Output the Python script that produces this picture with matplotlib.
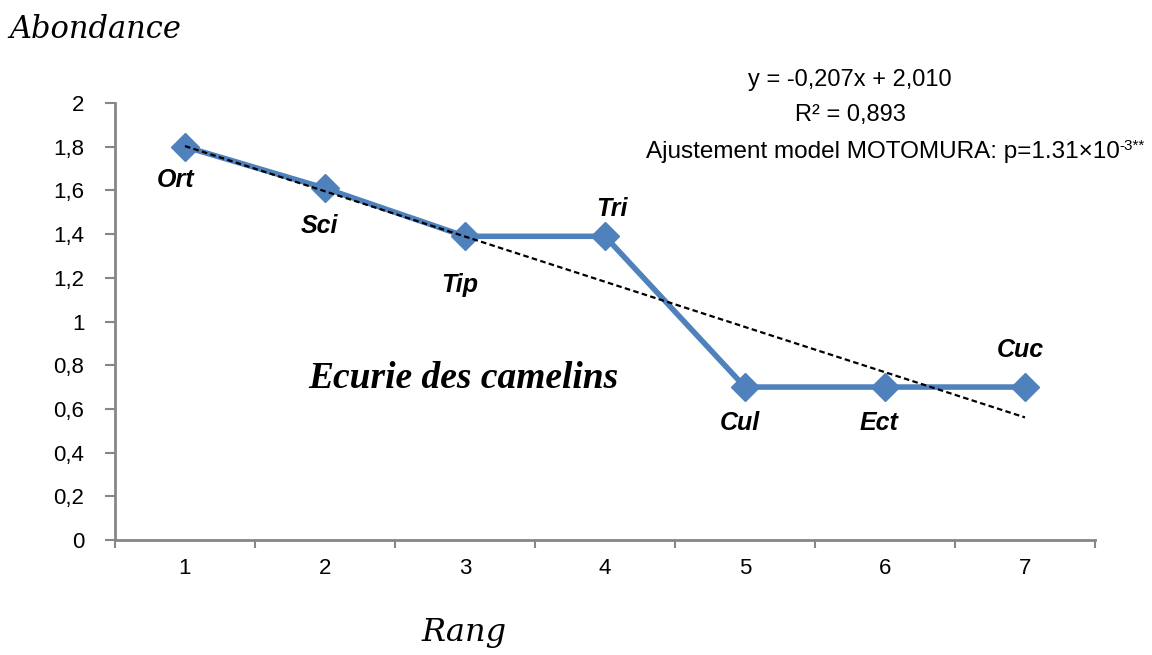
import numpy as np
import matplotlib.pyplot as plt
from matplotlib.ticker import FuncFormatter

# Rang / abondance data (log abundance by rank)
rangs = [1, 2, 3, 4, 5, 6, 7]
abondance = [1.8, 1.61, 1.39, 1.39, 0.7, 0.7, 0.7]
especes = ["Ort", "Sci", "Tip", "Tri", "Cul", "Ect", "Cuc"]
# label offsets in points (dx, dy)
label_offsets = [(-7, -24), (-4, -27), (-4, -35), (5, 20), (-4, -26), (-4, -26), (-3, 27)]

pente = -0.207
origine = 2.010

plt.rcParams["font.family"] = ["Liberation Sans", "DejaVu Sans"]

fig = plt.figure(figsize=(11.52, 6.55), dpi=100)
ax = fig.add_axes([0.0998, 0.1756, 0.8507, 0.6671])

ax.plot(rangs, abondance, color="#4F81BD", linewidth=4, marker="D",
        markersize=14, markerfacecolor="#4F81BD", markeredgecolor="#4F81BD", zorder=3)

x_fit = np.array([rangs[0], rangs[-1]])
ax.plot(x_fit, pente * x_fit + origine, color="black", linestyle=(0, (2.5, 1.5)),
        linewidth=1.6, zorder=4)

for x, y, nom, (dx, dy) in zip(rangs, abondance, especes, label_offsets):
    ax.annotate(nom, (x, y), xytext=(dx, dy), textcoords="offset points",
                ha="center", va="center", fontsize=18, fontweight="bold",
                fontstyle="italic", color="black")


def fmt(v, p):
    if abs(v) < 1e-9:
        return "0"
    s = f"{v:.1f}"
    if s.endswith(".0"):
        s = s[:-2]
    return s.replace(".", ",")


ax.set_xlim(0.5, 7.5)
ax.set_ylim(0, 2)
ax.set_yticks(np.arange(0, 2.01, 0.2))
ax.yaxis.set_major_formatter(FuncFormatter(fmt))
ax.set_xticks(rangs)
ax.set_xticks(np.arange(0.5, 7.6, 1), minor=True)
ax.tick_params(axis="x", which="major", length=0, pad=13, labelsize=16)
ax.tick_params(axis="x", which="minor", length=6, color="#868686", width=1.5)
ax.tick_params(axis="y", length=7, color="#868686", width=1.5, labelsize=16, pad=15)

for side in ["top", "right"]:
    ax.spines[side].set_visible(False)
for side in ["left", "bottom"]:
    ax.spines[side].set_color("#868686")
    ax.spines[side].set_linewidth(2)

serif = ["DejaVu Serif"]
fig.text(0.008, 0.955, "Abondance", fontsize=22, fontstyle="italic", family=serif,
         ha="left", va="center")
fig.text(0.403, 0.035, "Rang", fontsize=23, fontstyle="italic", family=serif,
         ha="center", va="center")
ax.text(2.99, 0.74, "Ecurie des camelins", fontsize=27, fontstyle="italic",
        fontweight="bold", family=["Liberation Serif", "DejaVu Serif"],
        ha="center", va="center")

fig.text(0.738, 0.878, "y = -0,207x + 2,010", fontsize=17, ha="center", va="center")
fig.text(0.738, 0.824, "R² = 0,893", fontsize=17, ha="center", va="center")
ajust = fig.text(0.972, 0.768, "Ajustement model MOTOMURA: p=1.31×10", fontsize=17.5,
                 ha="right", va="center")
ax.annotate("-3**", xy=(1.0, 0.78), xycoords=ajust, ha="left", va="center",
            fontsize=11, annotation_clip=False)

fig.savefig("out.png", dpi=100, facecolor="white")
